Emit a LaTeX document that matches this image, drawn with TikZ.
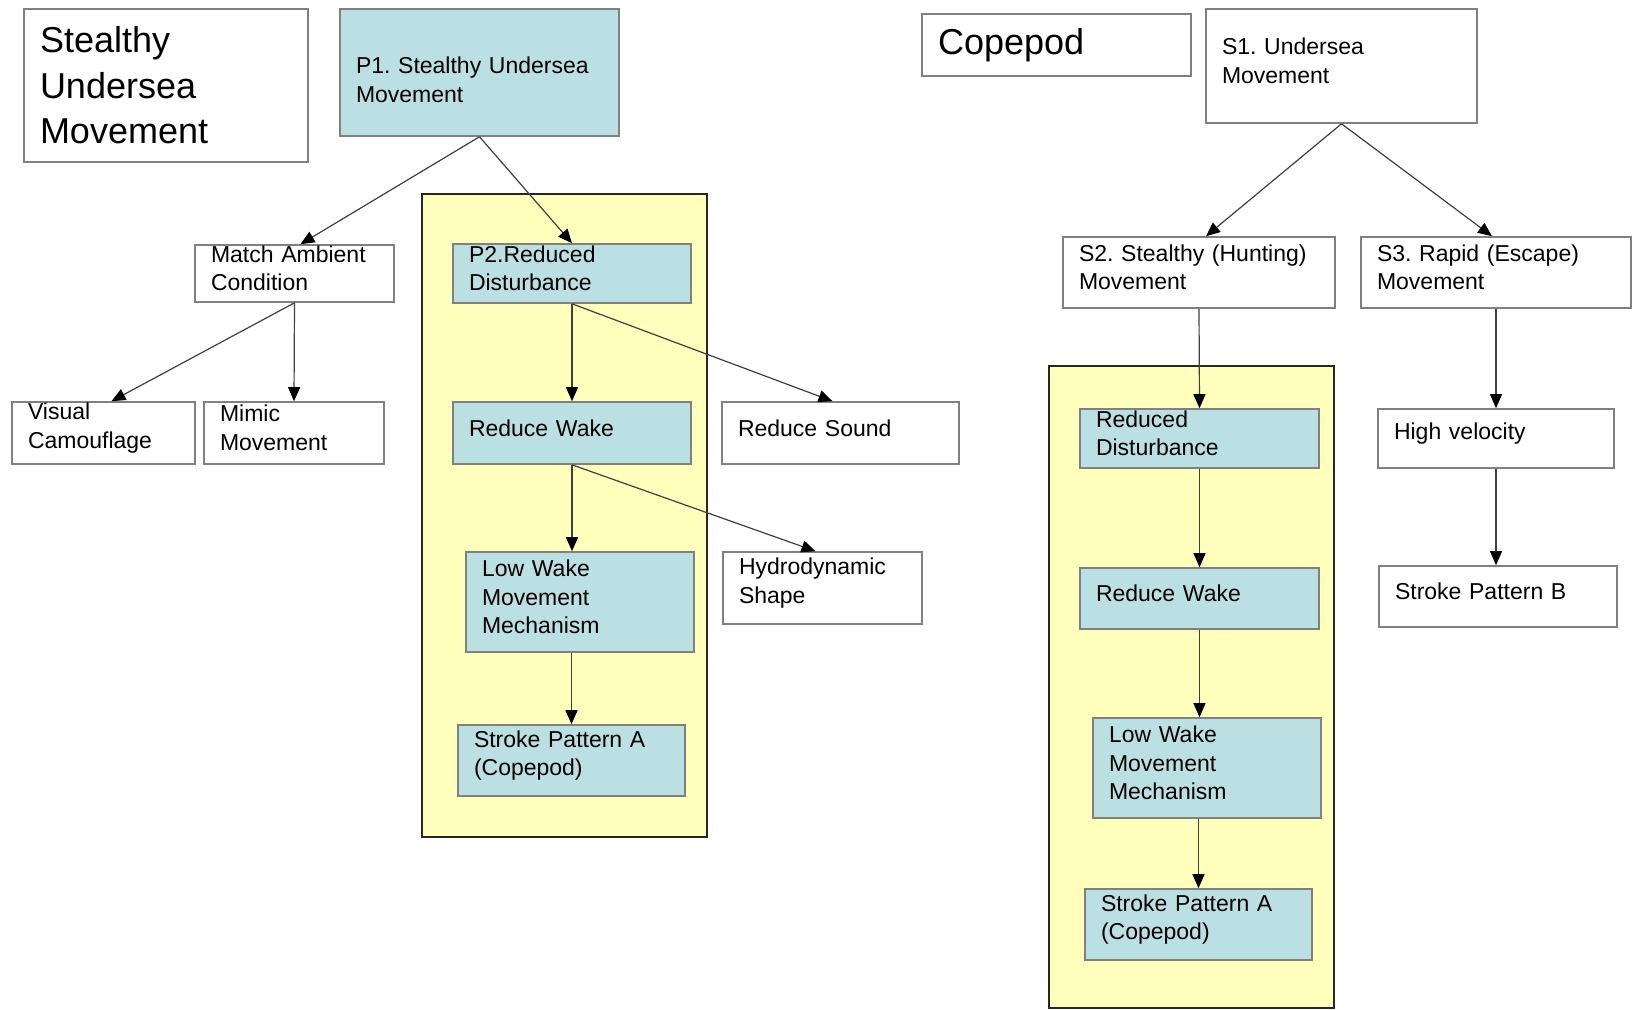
\documentclass[tikz,border=0pt]{standalone}
\usepackage{fontspec}
\setmainfont{Liberation Sans}
\usetikzlibrary{arrows.meta,positioning}
\definecolor{boxblue}{RGB}{187,224,227}
\definecolor{zoneyellow}{RGB}{255,255,187}
\definecolor{boxline}{RGB}{128,128,128}

\begin{document}
\begin{tikzpicture}[
  x=0.5pt, y=-0.5pt,
  frame/.style={rectangle, draw=boxline, line width=0.8pt, fill=#1,
                align=left, inner xsep=8pt, inner ysep=0pt},
  frame/.default=white,
  box/.style={frame=#1, text height=3.3pt,
              font=\fontsize{11.5}{14.3}\selectfont},
  box/.default=white,
  head/.style={frame, font=\fontsize{18}{22.7}\selectfont},
  zone/.style={draw=black!85, line width=1pt, fill=zoneyellow},
  arrow/.style={-{Triangle[length=7pt,width=6pt,color=black]}, draw=black!75, line width=0.6pt}
]
  \useasboundingbox[fill=white] (0,0) rectangle (1633,1010);

  % ── yellow zones ──
  \draw[zone] (422,194) rectangle (707,837);
  \draw[zone] (1049,366) rectangle (1334,1008);

  % ── LEFT: stealthy undersea movement ──
  \node[head, text width=126pt, minimum height=76.5pt] (tsum) at (166,85.5) {Stealthy\\ Undersea\\ Movement};
  \node[box=boxblue, text width=123.5pt, minimum height=63.5pt, text height=15.4pt] (p1) at (479.5,72.5) {P1.~Stealthy~Undersea\\ Movement};
  \node[box, text width=83.5pt, minimum height=28.5pt] (mac) at (294.5,273.5) {Match Ambient\\ Condition};
  \node[box=boxblue, text width=103pt, minimum height=29.5pt] (p2) at (572,273.5) {P2.Reduced\\ Disturbance};
  \node[box, text width=75.5pt, minimum height=31pt] (vc) at (103.5,433) {Visual\\ Camouflage};
  \node[box, text width=74pt, minimum height=31pt] (mm) at (294,433) {Mimic\\ Movement};
  \node[box=boxblue, text width=103pt, minimum height=31pt] (rwl) at (572,433) {Reduce Wake};
  \node[box, text width=102.5pt, minimum height=31pt] (rs) at (840.5,433) {Reduce Sound};
  \node[box=boxblue, text width=98pt, minimum height=50pt] (lwl) at (580,602) {Low Wake\\ Movement\\ Mechanism};
  \node[box, text width=83.5pt, minimum height=36pt] (hs) at (822.5,588) {Hydrodynamic\\ Shape};
  \node[box=boxblue, text width=97.5pt, minimum height=35.5pt] (spl) at (571.5,760.5) {Stroke Pattern A\\ (Copepod)};

  \draw[arrow] (p1.south) -- ([xshift=3pt]mac.north);
  \draw[arrow] (p1.south) -- (p2.north);
  \draw[arrow] (mac.south) -- ([xshift=4pt]vc.north);
  \draw[arrow] (mac.south) -- (mm.north);
  \draw[arrow] (p2.south) -- (rwl.north);
  \draw[arrow] (p2.south) -- ([xshift=-4pt]rs.north);
  \draw[arrow] (rwl.south) -- (rwl.south |- lwl.north);
  \draw[arrow] (rwl.south) -- ([xshift=-3.5pt]hs.north);
  \draw[arrow] (spl.north |- lwl.south) -- (spl.north);

  % ── RIGHT: copepod ──
  \node[head, text width=118.5pt, minimum height=31pt] (tcop) at (1056.5,45) {Copepod};
  \node[box, text width=119.5pt, minimum height=57pt] (s1) at (1341.5,66) {S1.~Undersea\\ Movement};
  \node[box, text width=120pt, minimum height=35.5pt] (s2) at (1199,272.5) {S2.~Stealthy~(Hunting)\\ Movement};
  \node[box, text width=119pt, minimum height=35.5pt] (s3) at (1496,272.5) {S3.~Rapid~(Escape)\\ Movement};
  \node[box=boxblue, text width=103.5pt, minimum height=29.5pt] (rdr) at (1199.5,438.5) {Reduced\\ Disturbance};
  \node[box, text width=102pt, minimum height=29.5pt] (hv) at (1496,438.5) {High velocity};
  \node[box=boxblue, text width=103.5pt, minimum height=30.5pt] (rwr) at (1199.5,598.5) {Reduce Wake};
  \node[box, text width=103pt, minimum height=30.5pt] (sb) at (1498,596.5) {Stroke Pattern B};
  \node[box=boxblue, text width=98pt, minimum height=50pt] (lwr) at (1207,768) {Low Wake\\ Movement\\ Mechanism};
  \node[box=boxblue, text width=97.5pt, minimum height=35.5pt] (spr) at (1198.5,924.5) {Stroke Pattern A\\ (Copepod)};

  \draw[arrow] (s1.south) -- ([xshift=3.5pt]s2.north);
  \draw[arrow] (s1.south) -- ([xshift=-2pt]s3.north);
  \draw[arrow] (s2.south) -- (rdr.north);
  \draw[arrow] (s3.south) -- (hv.north);
  \draw[arrow] (rdr.south) -- (rwr.north);
  \draw[arrow] (rwr.south) -- (rwr.south |- lwr.north);
  \draw[arrow] (spr.north |- lwr.south) -- (spr.north);
  \draw[arrow] (hv.south) -- ([xshift=-1pt]sb.north);
\end{tikzpicture}
\end{document}
